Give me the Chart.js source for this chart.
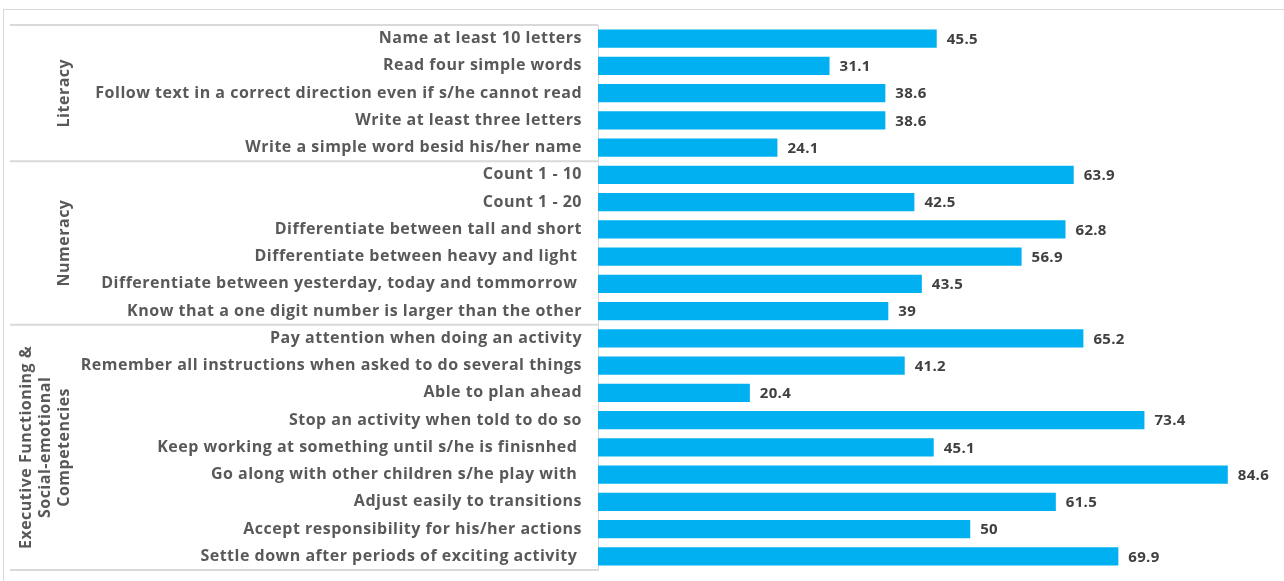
<!DOCTYPE html>
<html>
<head>
<meta charset="utf-8">
<script src="https://cdn.jsdelivr.net/npm/chart.js@4.4.0/dist/chart.umd.min.js"></script>
<style>
  html, body { margin: 0; padding: 0; background: #fff; }
  #wrap { width: 1284px; height: 581px; }
</style>
</head>
<body>
<div id="wrap"><canvas id="chart" width="1284" height="581"></canvas></div>
<script>
// items, top to bottom
const labels = [
  'Name at least 10 letters',
  'Read four simple words',
  'Follow text in a correct direction even if s/he cannot read',
  'Write at least three letters',
  'Write a simple word besid his/her name',
  'Count 1 - 10',
  'Count 1 - 20',
  'Differentiate between tall and short',
  'Differentiate between heavy and light ',
  'Differentiate between yesterday, today and tommorrow ',
  'Know that a one digit number is larger than the other',
  'Pay attention when doing an activity',
  'Remember all instructions when asked to do several things',
  'Able to plan ahead',
  'Stop an activity when told to do so',
  'Keep working at something until s/he is finisnhed ',
  'Go along with other children s/he play with ',
  'Adjust easily to transitions',
  'Accept responsibility for his/her actions',
  'Settle down after periods of exciting activity '
];
const values = [45.5, 31.1, 38.6, 38.6, 24.1,
                63.9, 42.5, 62.8, 56.9, 43.5, 39,
                65.2, 41.2, 20.4, 73.4, 45.1, 84.6, 61.5, 50, 69.9];
const groupNames = [['Literacy'], ['Numeracy'],
                    ['Executive Functioning &', 'Social-emotional', 'Competencies']];
const groupSizes = [5, 6, 9];

const GRAY = '#595959';
const LINE = '#d9d9d9';
const FONT = '"Open Sans", "Liberation Sans", Arial, sans-serif';

// slightly wider text overall
const spacing = {
  id: 'spacing',
  beforeDraw(chart) { chart.ctx.letterSpacing = '0.5px'; }
};

// value labels at the end of each bar
const barValues = {
  id: 'barValues',
  afterDatasetsDraw(chart) {
    const ctx = chart.ctx;
    const meta = chart.getDatasetMeta(0);
    ctx.save();
    ctx.letterSpacing = '0.3px';
    ctx.font = 'bold 15px ' + FONT;
    ctx.fillStyle = '#404040';
    ctx.textAlign = 'left';
    ctx.textBaseline = 'middle';
    meta.data.forEach((bar, i) => {
      ctx.fillText(String(values[i]), bar.x + 10, bar.y + 1);
    });
    ctx.restore();
  }
};

// group separators, outer frame and rotated group names
const groupBoxes = {
  id: 'groupBoxes',
  afterDraw(chart) {
    const ctx = chart.ctx;
    const y = chart.scales.y;
    const area = chart.chartArea;
    ctx.save();
    ctx.strokeStyle = LINE;
    ctx.lineWidth = 1;
    ctx.strokeRect(3.5, 9.5, 1300, 600);
    ctx.lineWidth = 2;
    let start = 0;
    const edges = [y.getPixelForValue(-0.5)];
    groupSizes.forEach(n => {
      edges.push(y.getPixelForValue(start + n - 0.5));
      start += n;
    });
    edges.forEach(py => {
      ctx.beginPath();
      ctx.moveTo(10, py);
      ctx.lineTo(area.left, py);
      ctx.stroke();
    });
    ctx.fillStyle = GRAY;
    ctx.letterSpacing = '0.5px';
    ctx.font = 'bold 16px ' + FONT;
    ctx.textAlign = 'center';
    ctx.textBaseline = 'middle';
    groupNames.forEach((lines, g) => {
      const cy = (edges[g] + edges[g + 1]) / 2;
      const lh = 19;
      const x0 = 64 - (lines.length - 1) * lh;
      lines.forEach((t, k) => {
        ctx.save();
        ctx.translate(x0 + k * lh, cy);
        ctx.rotate(-Math.PI / 2);
        ctx.fillText(t, 0, 0);
        ctx.restore();
      });
    });
    ctx.restore();
  }
};

new Chart(document.getElementById('chart'), {
  type: 'bar',
  data: {
    labels: labels,
    datasets: [{
      data: values,
      backgroundColor: '#00B0F0',
      borderWidth: 0,
      barPercentage: 0.67,
      categoryPercentage: 1
    }]
  },
  options: {
    indexAxis: 'y',
    responsive: false,
    animation: false,
    layout: { padding: { top: 25, bottom: 11, left: 0, right: 16 } },
    plugins: { legend: { display: false }, tooltip: { enabled: false } },
    scales: {
      x: {
        display: false,
        min: 0,
        max: 90
      },
      y: {
        afterFit(scale) {
          scale.width = 598;
          scale.paddingTop = 0;
          scale.paddingBottom = 0;
        },
        grid: { display: false, drawTicks: false },
        border: { display: true, color: LINE, width: 1 },
        ticks: {
          padding: 16,
          color: GRAY,
          font: { family: FONT, size: 16, weight: 'bold' }
        }
      }
    }
  },
  plugins: [spacing, barValues, groupBoxes]
});
</script>
</body>
</html>
